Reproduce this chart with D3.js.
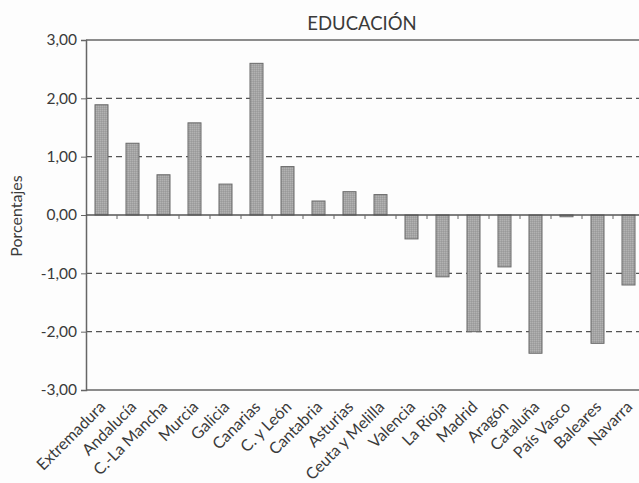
<!DOCTYPE html>
<html>
<head>
<meta charset="utf-8">
<script src="https://cdn.jsdelivr.net/npm/d3@7"></script>
<style>
  html, body { margin: 0; padding: 0; background: #fdfdfd; }
  svg { display: block; }
  text { font-family: Lato, "Open Sans", sans-serif; fill: #3a3a3a; }
</style>
</head>
<body>
<div id="chart"></div>
<script>
// Regions and their percentage values
const regions = ["Extremadura", "Andalucía", "C.-La Mancha", "Murcia", "Galicia", "Canarias",
  "C. y León", "Cantabria", "Asturias", "Ceuta y Melilla", "Valencia", "La Rioja",
  "Madrid", "Aragón", "Cataluña", "País Vasco", "Baleares", "Navarra"];
const values = [1.89, 1.23, 0.69, 1.58, 0.53, 2.60, 0.83, 0.24, 0.40, 0.35,
  -0.41, -1.06, -2.00, -0.89, -2.37, -0.03, -2.20, -1.20];
const yTicks = [-3, -2, -1, 0, 1, 2, 3];
const gridValues = [-2, -1, 1, 2];
const title = "EDUCACIÓN";
const yLabel = "Porcentajes";

const W = 639, H = 483;
const m = { left: 86, top: 40, right: -5, bottom: 93 };

const svg = d3.select("#chart").append("svg")
  .attr("width", W).attr("height", H);

// Stippled grey fill for the bars
const defs = svg.append("defs");
const pat = defs.append("pattern").attr("id", "stipple")
  .attr("width", 2).attr("height", 2).attr("patternUnits", "userSpaceOnUse");
pat.append("rect").attr("width", 2).attr("height", 2).attr("fill", "#a4a4a4");
pat.append("rect").attr("width", 1).attr("height", 1).attr("fill", "#b2b2b2");
pat.append("rect").attr("x", 1).attr("y", 1).attr("width", 1).attr("height", 1).attr("fill", "#9a9a9a");

const x = d3.scaleBand().domain(regions)
  .range([m.left, W - m.right]).paddingInner(0.58).paddingOuter(0.29);
const y = d3.scaleLinear().domain([-3, 3]).range([H - m.bottom, m.top]);

// Dashed gridlines
svg.append("g").selectAll("line").data(gridValues).join("line")
  .attr("x1", m.left).attr("x2", W - m.right)
  .attr("y1", d => y(d)).attr("y2", d => y(d))
  .attr("stroke", "#555").attr("stroke-width", 1.2)
  .attr("stroke-dasharray", "6,4");

// Frame lines at top and bottom
[3, -3].forEach(v => {
  svg.append("line")
    .attr("x1", m.left).attr("x2", W - m.right)
    .attr("y1", y(v)).attr("y2", y(v))
    .attr("stroke", "#666").attr("stroke-width", 1.5);
});

// Bars
svg.append("g").selectAll("rect").data(values).join("rect")
  .attr("x", (d, i) => x(regions[i]))
  .attr("width", x.bandwidth())
  .attr("y", d => y(Math.max(0, d)))
  .attr("height", d => Math.abs(y(d) - y(0)))
  .attr("fill", "url(#stipple)")
  .attr("stroke", "#6a6a6a").attr("stroke-width", 1);

// Left axis
const yAxis = d3.axisLeft(y).tickValues(yTicks).tickSize(5).tickPadding(4)
  .tickFormat(d => d3.format(".2f")(d).replace(".", ",").replace("−", "-"));
const gy = svg.append("g").attr("transform", `translate(${m.left},0)`).call(yAxis);
gy.select(".domain").attr("stroke", "#666").attr("stroke-width", 1.5);
gy.selectAll(".tick line").attr("stroke", "#666");
gy.selectAll(".tick text").style("font-size", "15.5px").attr("fill", "#3a3a3a");

// Zero baseline with category tick marks
const step = x.step();
const boundaries = regions.map((r, i) => m.left + step * (i + 1));
svg.append("line")
  .attr("x1", m.left).attr("x2", W - m.right)
  .attr("y1", y(0)).attr("y2", y(0))
  .attr("stroke", "#555").attr("stroke-width", 1.5);
svg.append("g").selectAll("line").data(boundaries).join("line")
  .attr("x1", d => d).attr("x2", d => d)
  .attr("y1", y(0)).attr("y2", y(0) + 4)
  .attr("stroke", "#666");

// Category labels, slanted
svg.append("g").selectAll("text").data(regions).join("text")
  .attr("transform", d => `translate(${x(d) + x.bandwidth() / 2 + 1},${y(-3) + 14}) rotate(-45)`)
  .attr("text-anchor", "end")
  .attr("dy", "0.35em")
  .style("font-size", "16px")
  .text(d => d);

// Title
svg.append("text")
  .attr("x", 362).attr("y", 30)
  .attr("text-anchor", "middle")
  .style("font-size", "18.5px")
  .text(title);

// Y axis label
svg.append("text")
  .attr("transform", `translate(22,${y(0) + 1}) rotate(-90)`)
  .attr("text-anchor", "middle")
  .style("font-size", "16px")
  .text(yLabel);
</script>
</body>
</html>
